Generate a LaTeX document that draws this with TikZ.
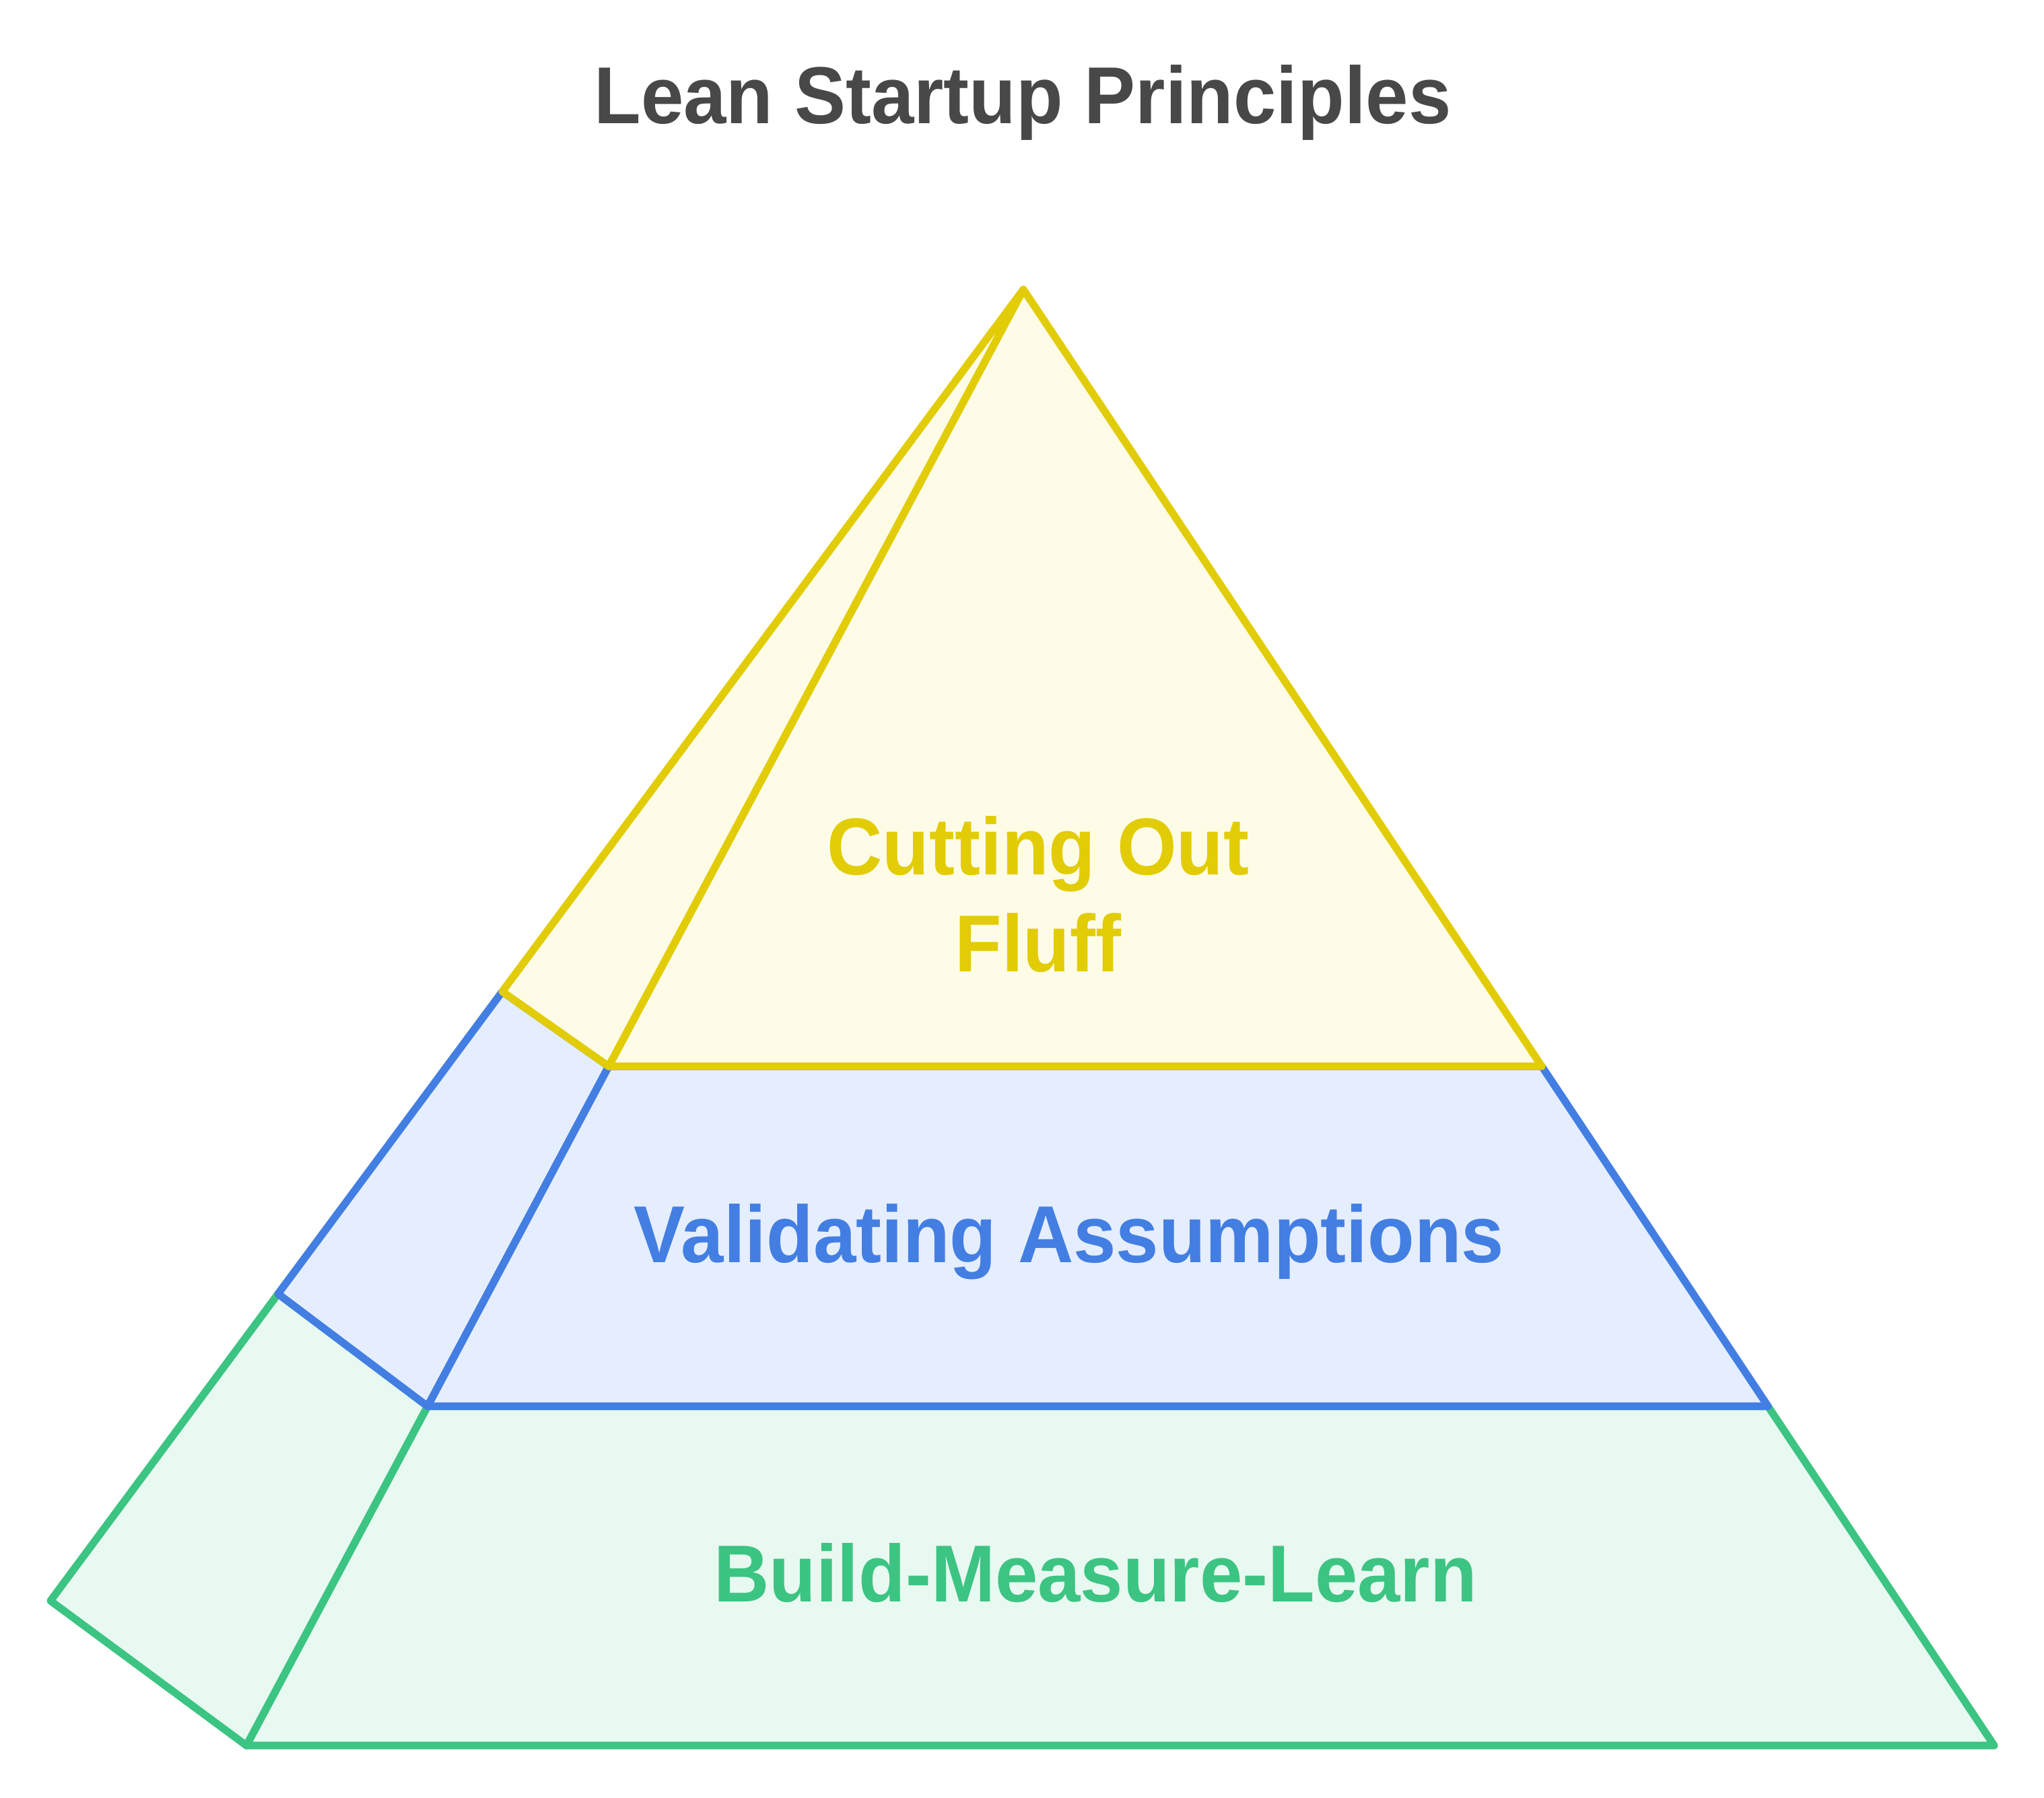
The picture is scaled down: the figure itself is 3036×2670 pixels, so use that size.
\documentclass[tikz,border=0pt]{standalone}
\usepackage{fontspec}
\setsansfont{Liberation Sans}[FakeStretch=0.95]
\definecolor{fluffline}{HTML}{E2CC05}
\definecolor{flufffill}{HTML}{FEFCE6}
\definecolor{validline}{HTML}{437EE3}
\definecolor{validfill}{HTML}{E5EEFE}
\definecolor{buildline}{HTML}{3CC482}
\definecolor{buildfill}{HTML}{E8F9F1}
\definecolor{titlegray}{HTML}{484848}

\begin{document}
\begin{tikzpicture}[x=0.25pt,y=-0.25pt]
\tikzstyle{tier}=[line width=2.8pt,line join=round]
\tikzstyle{tiertext}=[font=\sffamily\bfseries\fontsize{30}{36}\selectfont,anchor=base,align=center,inner sep=0pt]
\useasboundingbox (0,0) rectangle (3036,2670);
\coordinate (apex) at (1520,430);
\coordinate (fluff-r) at (2290,1584);
\coordinate (fluff-i) at (904,1584);
\coordinate (fluff-o) at (746,1473);
\coordinate (valid-r) at (2626,2089);
\coordinate (valid-i) at (635,2089);
\coordinate (valid-o) at (413,1922);
\coordinate (build-r) at (2962,2593);
\coordinate (build-i) at (366,2593);
\coordinate (build-o) at (75,2378);
% bottom tier
\filldraw[tier,draw=buildline,fill=buildfill] (valid-i) -- (valid-r) -- (build-r) -- (build-i) -- cycle;
\filldraw[tier,draw=buildline,fill=buildfill] (valid-o) -- (valid-i) -- (build-i) -- (build-o) -- cycle;
% middle tier
\filldraw[tier,draw=validline,fill=validfill] (fluff-i) -- (fluff-r) -- (valid-r) -- (valid-i) -- cycle;
\filldraw[tier,draw=validline,fill=validfill] (fluff-o) -- (fluff-i) -- (valid-i) -- (valid-o) -- cycle;
% top tier
\filldraw[tier,draw=fluffline,fill=flufffill] (apex) -- (fluff-r) -- (fluff-i) -- cycle;
\filldraw[tier,draw=fluffline,fill=flufffill] (apex) -- (fluff-i) -- (fluff-o) -- cycle;
\node[tiertext,text=titlegray] (title) at (1519,183) {Lean Startup Principles};
\node[tiertext,text=fluffline] (fluff) at (1542,1443) {Cutting Out\\Fluff};
\node[tiertext,text=validline] (valid) at (1588,1875) {Validating Assumptions};
\node[tiertext,text=buildline] (build) at (1627,2379) {Build-Measure-Learn};
\end{tikzpicture}
\end{document}
